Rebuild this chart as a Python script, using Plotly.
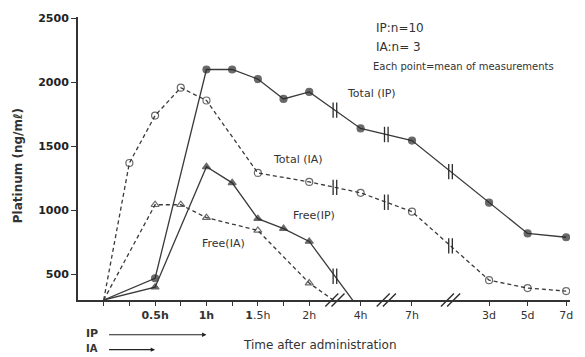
import numpy as np
import plotly.graph_objects as go

# ---- data ----
# axis position of each time point (0.25 h per unit, broken axis after 2 h)
time_pos = {"0h": 0, "0.25h": 1, "0.5h": 2, "0.75h": 3, "1h": 4, "1.25h": 5, "1.5h": 6,
            "1.75h": 7, "2h": 8, "4h": 10, "7h": 12, "3d": 15, "5d": 16.5, "7d": 18}

total_ip_t = ["0h", "0.5h", "1h", "1.25h", "1.5h", "1.75h", "2h", "4h", "7h", "3d", "5d", "7d"]
total_ip_v = [300, 470, 2100, 2100, 2025, 1870, 1925, 1640, 1545, 1060, 820, 790]

total_ia_t = ["0h", "0.25h", "0.5h", "0.75h", "1h", "1.5h", "2h", "4h", "7h", "3d", "5d", "7d"]
total_ia_v = [300, 1370, 1740, 1958, 1858, 1292, 1222, 1137, 990, 455, 393, 370]

free_ip_t = ["0h", "0.5h", "1h", "1.25h", "1.5h", "1.75h", "2h", "4h"]
free_ip_v = [300, 400, 1340, 1215, 935, 858, 757, 215]

free_ia_t = ["0h", "0.5h", "0.75h", "1h", "1.5h", "2h", "4h"]
free_ia_v = [300, 1044, 1044, 943, 843, 432, 150]

tick_pos = [0, 1, 2, 3, 4, 5, 6, 7, 8, 10, 12, 15, 16.5, 18]
tick_txt = ["", "", "<b>0.5h</b>", "", "<b>1h</b>", "", "<b>1</b>.5h", "", "2h",
            "4h", "7h", "3d", "5d", "7d"]
axis_breaks = [9, 11, 13.5]

y_ticks = [500, 1000, 1500, 2000, 2500]

LINE = "#3a3a3a"
MARK = "#2b2b2b"
FONT = "DejaVu Sans"

fig = go.Figure()


def xs(ts):
    return [time_pos[t] for t in ts]


def sizes(ts, vals, s):
    return [0 if (t == "0h" or v < 300) else s for t, v in zip(ts, vals)]


series = [
    (total_ip_t, total_ip_v, "solid", "circle", MARK, 7),
    (total_ia_t, total_ia_v, "4px,3px", "circle-open", MARK, 7),
    (free_ip_t, free_ip_v, "solid", "triangle-up", MARK, 7),
    (free_ia_t, free_ia_v, "4px,3px", "triangle-up-open", MARK, 7),
]
for ts, vs, dash, sym, col, s in series:
    fig.add_trace(go.Scatter(
        x=xs(ts), y=vs, mode="lines+markers",
        line=dict(color=LINE, width=1.3, dash=dash),
        marker=dict(symbol=sym, size=sizes(ts, vs, s), color=col,
                    line=dict(color=col, width=1.2)),
        showlegend=False, hoverinfo="skip"))

# "||" break symbols on the curves (placed at the axis breaks)
bx, by = [], []
for ts, vs, brks in [(total_ip_t, total_ip_v, axis_breaks),
                     (total_ia_t, total_ia_v, axis_breaks),
                     (free_ip_t, free_ip_v, axis_breaks[:1])]:
    for b in brks:
        yv = float(np.interp(b, xs(ts), vs))
        for d in (-0.07, 0.07):
            bx.append(b + d)
            by.append(yv)
fig.add_trace(go.Scatter(x=bx, y=by, mode="markers",
                         marker=dict(symbol="line-ns-open", size=11, color=MARK,
                                     line=dict(color=MARK, width=1.3)),
                         showlegend=False, hoverinfo="skip", cliponaxis=False))

# "//" marks on the x axis
ax_x, ax_y = [], []
for b in axis_breaks:
    for d in (-0.12, 0.12):
        ax_x.append(b + d)
        ax_y.append(300)
fig.add_trace(go.Scatter(x=ax_x, y=ax_y, mode="markers",
                         marker=dict(symbol="line-ne-open", size=13, color=MARK,
                                     line=dict(color=MARK, width=1.4)),
                         showlegend=False, hoverinfo="skip", cliponaxis=False))

ann = []


def txt(x, y, t, size=11, xanchor="center", weight="normal", xref="paper", yref="paper", angle=0):
    ann.append(dict(x=x, y=y, xref=xref, yref=yref, text=t, showarrow=False,
                    xanchor=xanchor, yanchor="middle", textangle=angle,
                    font=dict(family=FONT, size=size, color="#333", weight=weight)))


def px(X):
    return (X - 78) / 494


def py(Y):
    return (300 - Y) / 285


txt(px(373), py(92), "Total (IP)", 11)
txt(px(299), py(159), "Total (IA)", 11)
txt(px(315), py(215), "Free(IP)", 11)
txt(px(224), py(243), "Free(IA)", 11)
txt(px(375), py(26), "IP:n=10", 12, "left")
txt(px(375), py(45), "IA:n= 3", 12, "left")
txt(px(372), py(65), "Each point=mean of measurements", 10, "left")
txt(px(321), py(345), "Time after administration", 12)
txt(px(18), py(165), "Platinum (ng/mℓ)", 12, weight="bold", angle=-90)
txt(px(84), py(334), "IP", 11, "left", weight="bold")
txt(px(84), py(349), "IA", 10, "left", weight="bold")

# administration-period arrows (IP: 0 -> 1h, IA: 0 -> 0.5h)
for tgt, yy in [("1h", py(335)), ("0.5h", py(350))]:
    ann.append(dict(x=time_pos[tgt], y=yy, xref="x", yref="paper", ax=0.15, ay=0,
                    axref="x", ayref="pixel", showarrow=True, arrowhead=2,
                    arrowsize=0.8, arrowwidth=1.1, arrowcolor="#222", text=""))

fig.update_layout(
    width=585, height=357,
    margin=dict(l=78, r=13, t=15, b=57),
    paper_bgcolor="white", plot_bgcolor="white",
    annotations=ann,
    xaxis=dict(range=[-1.0, 18.15], tickvals=tick_pos, ticktext=tick_txt,
               showgrid=False, zeroline=False, showline=True, linecolor="#333",
               linewidth=2, ticks="outside", ticklen=4, tickwidth=1.3, tickcolor="#333",
               tickfont=dict(family=FONT, size=11, color="#333")),
    yaxis=dict(range=[300, 2510], tickvals=y_ticks, ticktext=[str(v) for v in y_ticks],
               showgrid=False, zeroline=False, showline=True, linecolor="#333",
               linewidth=2, ticks="outside", ticklen=5, tickwidth=1.3, tickcolor="#333",
               tickfont=dict(family=FONT, size=11, color="#222", weight="bold")),
)

fig.write_html("out.html", config={"displayModeBar": False},
               post_script="document.body.style.margin='0';document.body.style.overflow='hidden';")
